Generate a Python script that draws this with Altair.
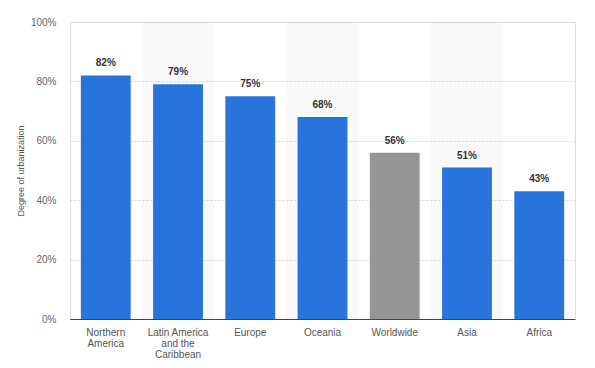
import altair as alt
import pandas as pd

regions = ["Northern America", "Latin America and the Caribbean", "Europe", "Oceania",
           "Worldwide", "Asia", "Africa"]
values = [82, 79, 75, 68, 56, 51, 43]
colors = ["#2874dc", "#2874dc", "#2874dc", "#2874dc", "#969696", "#2874dc", "#2874dc"]
stripe = [False, True, False, True, False, True, False]

df = pd.DataFrame({"region": regions, "value": values, "color": colors,
                   "label": [f"{v}%" for v in values], "stripe": stripe,
                   "top": [100] * len(regions)})

FONT = "Liberation Sans"

x = alt.X("region:N", sort=regions, title=None,
          scale=alt.Scale(paddingInner=0.31, paddingOuter=0.15),
          axis=alt.Axis(labelAngle=0, labelFont=FONT, labelFontSize=10, labelColor="#555",
                        labelPadding=8, tickSize=0, domain=True, domainColor="#444",
                        domainWidth=1, labelLineHeight=11,
                        labelExpr="datum.label == 'Northern America' ? ['Northern','America'] : "
                                  "datum.label == 'Latin America and the Caribbean' ? "
                                  "['Latin America','and the','Caribbean'] : datum.label"))

yaxis = alt.Axis(values=[0, 20, 40, 60, 80, 100], labelExpr="datum.value + '%'",
                 labelFont=FONT, labelFontSize=10, labelColor="#666", tickSize=0,
                 labelPadding=14, domain=False, grid=True, gridColor="#d8d8d8",
                 gridDash=[2, 2], titleFont=FONT, titleFontSize=9,
                 titleColor="#555", titleFontWeight="normal", titlePadding=5)
yscale = alt.Scale(domain=[0, 100], nice=False)

stripes = alt.Chart(df).transform_filter("datum.stripe").mark_bar(
    color="#000000", opacity=0.025, width=alt.RelativeBandSize(1.45)
).encode(x=x, y=alt.Y("top:Q", scale=yscale, axis=yaxis, title="Degree of urbanization"))

bars = alt.Chart(df).mark_bar().encode(
    x=x, y=alt.Y("value:Q", scale=yscale, axis=yaxis, title="Degree of urbanization"),
    color=alt.Color("color:N", scale=None)
)

labels = alt.Chart(df).mark_text(
    dy=-7, baseline="bottom", font=FONT, fontSize=10, fontWeight="bold", color="#333"
).encode(x=x, y=alt.Y("value:Q", title="Degree of urbanization"), text="label:N")

chart = alt.layer(stripes, bars, labels).properties(
    width=505, height=297, autosize="none",
    padding={"left": 62, "top": 14, "right": 12, "bottom": 40}
).configure_view(stroke=None).configure(background="white")

chart.save("out.html", embed_options={"renderer": "svg", "actions": False})
